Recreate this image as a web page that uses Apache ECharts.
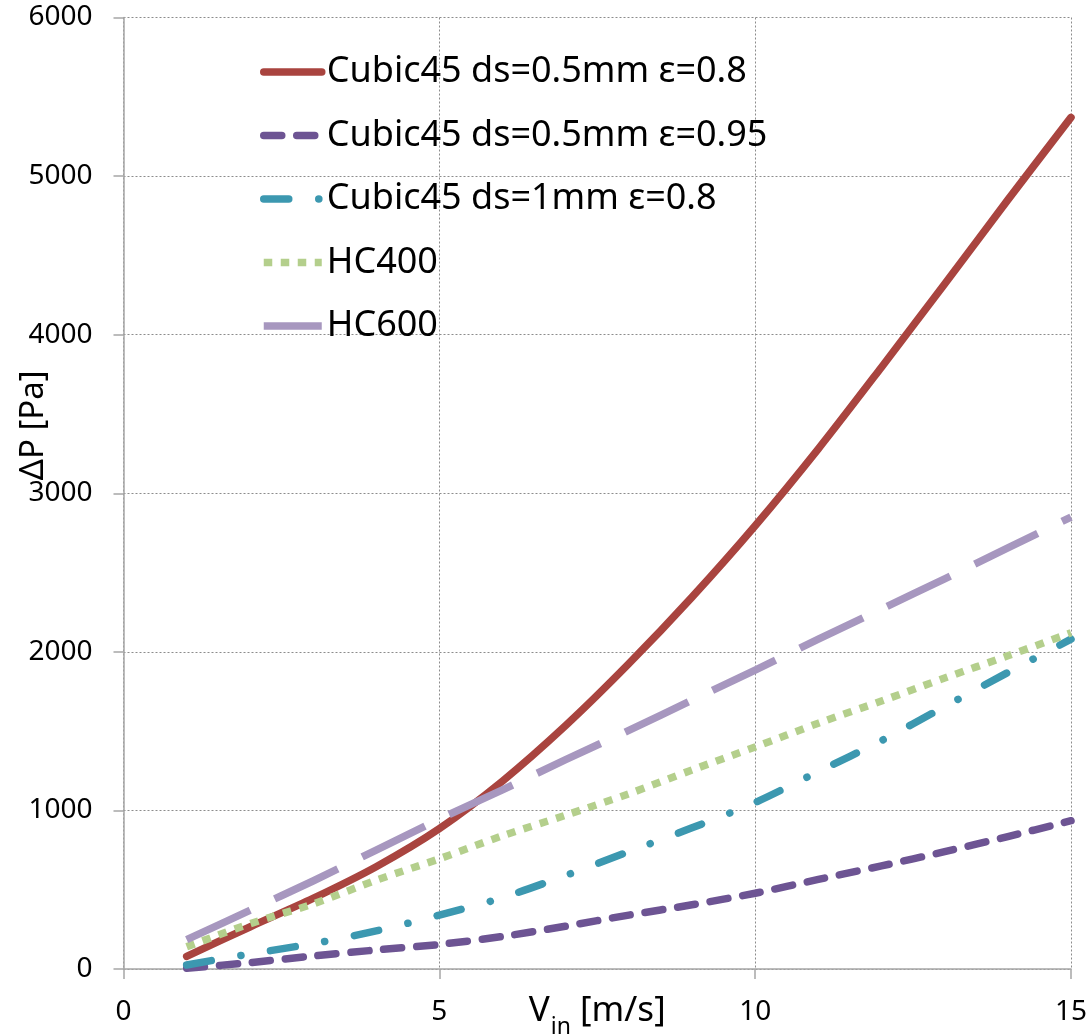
<!DOCTYPE html>
<html>
<head>
<meta charset="utf-8">
<script src="https://cdn.jsdelivr.net/npm/echarts@6/dist/echarts.min.js"></script>
<style>
html,body{margin:0;padding:0;background:#fff;}
#chart{width:1089px;height:1036px;}
</style>
</head>
<body>
<div id="chart"></div>
<script>
// Velocity V_in [m/s]
const velocities = [1, 2, 3, 4, 5, 6, 7, 8, 9, 10, 11, 12, 13, 14, 15];
// Pressure drop ΔP [Pa]
const cubic05_08  = [80, 265, 445, 645, 885, 1185, 1535, 1925, 2345, 2795, 3280, 3795, 4320, 4850, 5370];
const cubic05_095 = [5, 40, 82, 120, 155, 205, 270, 340, 405, 478, 565, 650, 740, 835, 935];
const cubic1_08   = [25, 95, 160, 240, 340, 450, 590, 740, 890, 1050, 1245, 1440, 1655, 1870, 2080];
const hc400       = [140, 285, 410, 560, 695, 840, 970, 1105, 1255, 1400, 1550, 1690, 1835, 1975, 2120];
const hc600       = [185, 370, 555, 750, 945, 1130, 1320, 1505, 1695, 1885, 2080, 2270, 2460, 2655, 2850];
const seriesNames = ['Cubic45 ds=0.5mm ε=0.8', 'Cubic45 ds=0.5mm ε=0.95', 'Cubic45 ds=1mm ε=0.8', 'HC400', 'HC600'];
const xTicks = [0, 5, 10, 15];
const yTicks = [0, 1000, 2000, 3000, 4000, 5000, 6000];

const FONT = '"Noto Sans", "Open Sans", sans-serif';
const pair = vals => velocities.map((v, i) => [v, vals[i]]);

const styles = [
  {color: '#A9443F', width: 7.5, type: 'solid', cap: 'round'},
  {color: '#6D5493', width: 7.5, type: [18, 15], cap: 'round'},
  {color: '#3C98B0', width: 7.5, type: [25, 30, 0.1, 30], cap: 'round'},
  {color: '#B4CF8C', width: 7.5, type: [8.5, 8.5], cap: 'butt'},
  {color: '#A797BF', width: 7.5, type: [70, 27], cap: 'butt'}
];
const allData = [cubic05_08, cubic05_095, cubic1_08, hc400, hc600];

const chart = echarts.init(document.getElementById('chart'), null, {renderer: 'canvas'});
chart.setOption({
  backgroundColor: '#ffffff',
  animation: false,
  textStyle: {fontFamily: FONT},
  grid: {left: 123.5, right: 18, top: 17.5, bottom: 67, containLabel: false, outerBoundsMode: 'none'},
  legend: {
    show: true,
    orient: 'vertical',
    left: 260,
    top: 52,
    padding: 0,
    itemWidth: 58,
    itemHeight: 14,
    itemGap: 23.5,
    data: seriesNames,
    lineStyle: {width: 7.5},
    itemStyle: {opacity: 0},
    textStyle: {fontFamily: FONT, fontSize: 36, color: '#000', lineHeight: 40},
    selectedMode: false
  },
  xAxis: {
    type: 'value',
    min: xTicks[0],
    max: xTicks[xTicks.length - 1],
    interval: 5,
    name: '{v|V}{s|in}{v| [m/s]}',
    nameLocation: 'middle',
    nameGap: 12,
    nameMoveOverlap: false,
    nameTextStyle: {
      rich: {
        v: {fontFamily: FONT, fontSize: 35, color: '#000', lineHeight: 60},
        s: {fontFamily: FONT, fontSize: 23, color: '#000', lineHeight: 23, verticalAlign: 'top', padding: [35, 0, 0, 1]}
      }
    },
    axisLine: {show: true, onZero: false, lineStyle: {color: '#A6A6A6', width: 1.5}},
    axisTick: {show: true, inside: false, length: 10, lineStyle: {color: '#A6A6A6', width: 1.5}},
    axisLabel: {fontFamily: FONT, fontSize: 28, color: '#000', margin: 29, formatter: v => String(v)},
    splitLine: {show: true, lineStyle: {color: '#8C8C8C', width: 1, type: [2, 2]}}
  },
  yAxis: {
    type: 'value',
    min: yTicks[0],
    max: yTicks[yTicks.length - 1],
    interval: 1000,
    name: 'ΔP [Pa]',
    nameLocation: 'middle',
    nameGap: 73,
    nameMoveOverlap: false,
    nameTextStyle: {fontFamily: FONT, fontSize: 33, color: '#000', padding: [0, 0, 0, 136]},
    axisLine: {show: true, onZero: false, lineStyle: {color: '#A6A6A6', width: 1.5}},
    axisTick: {show: true, inside: false, length: 10, lineStyle: {color: '#A6A6A6', width: 1.5}},
    axisLabel: {fontFamily: FONT, fontSize: 28, color: '#000', margin: 31, formatter: v => String(v)},
    splitLine: {show: true, lineStyle: {color: '#8C8C8C', width: 1, type: [2, 2]}}
  },
  series: allData.map((vals, i) => ({
    name: seriesNames[i],
    type: 'line',
    data: pair(vals),
    symbol: 'none',
    showSymbol: false,
    smooth: 0.3,
    color: styles[i].color,
    lineStyle: {color: styles[i].color, width: styles[i].width, type: styles[i].type, cap: styles[i].cap, join: 'round'},
    emphasis: {disabled: true},
    z: 2 + i
  }))
});
</script>
</body>
</html>
